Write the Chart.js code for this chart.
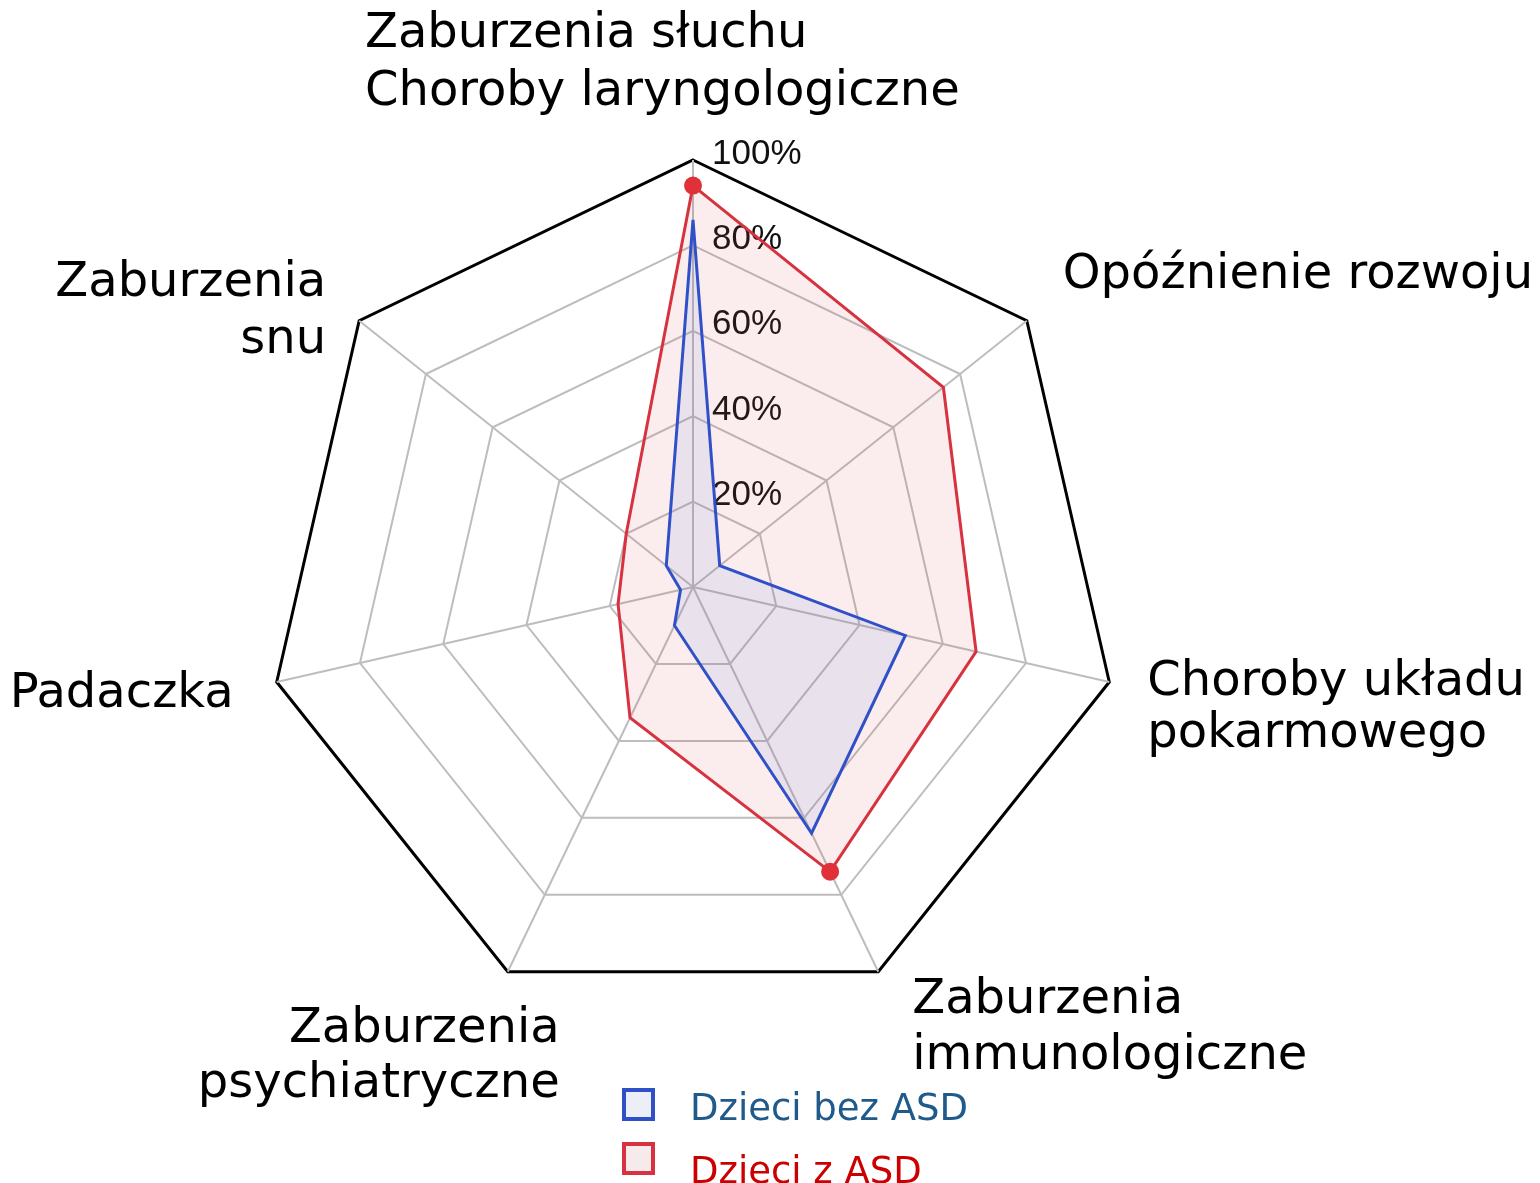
<!DOCTYPE html>
<html>
<head>
<meta charset="utf-8">
<script src="https://cdn.jsdelivr.net/npm/chart.js@4.4.1/dist/chart.umd.min.js"></script>
<style>
  html, body { margin: 0; padding: 0; background: #fff; }
  .wrap { width: 1540px; height: 1183px; position: relative; }
</style>
</head>
<body>
<div class="wrap"><canvas id="radar"></canvas></div>
<script>
// axis categories (clockwise from top)
const categories = [
    ['Zaburzenia słuchu', 'Choroby laryngologiczne'],
    ['Opóźnienie rozwoju'],
    ['Choroby układu', 'pokarmowego'],
    ['Zaburzenia', 'immunologiczne'],
    ['Zaburzenia', 'psychiatryczne'],
    ['Padaczka'],
    ['Zaburzenia', 'snu']
];
const seriesNames = ['Dzieci bez ASD', 'Dzieci z ASD'];
const withoutAsd = [86, 8, 51, 64, 10, 3, 8];
const withAsd = [94, 75, 68, 74, 34, 18, 20];
const tickValues = [20, 40, 60, 80, 100];

// where each category label sits relative to its outer vertex
const labelPlace = [
    { dx: -328, dy: -113, align: 'left', lh: 58 },
    { dx: 36, dy: -33, align: 'left', lh: 56 },
    { dx: 38, dy: 13, align: 'left', lh: 52 },
    { dx: 34, dy: 41, align: 'left', lh: 56 },
    { dx: 52, dy: 70, align: 'right', lh: 55 },
    { dx: -43, dy: 25, align: 'right', lh: 56 },
    { dx: -33, dy: -25, align: 'right', lh: 57 }
];

const labelFont = '48px "DejaVu Sans", Verdana, sans-serif';

const extras = {
    id: 'extras',
    beforeDatasetsDraw(chart) {
        const { ctx } = chart;
        const r = chart.scales.r;
        ctx.save();
        ctx.font = '35px "Liberation Sans", Arial, sans-serif';
        ctx.fillStyle = '#111';
        ctx.textAlign = 'left';
        ctx.textBaseline = 'middle';
        tickValues.forEach((v) => {
            const p = r.getPointPositionForValue(0, v);
            ctx.fillText(v + '%', p.x + 19, p.y - 6);
        });
        ctx.restore();
    },
    afterDraw(chart) {
        const { ctx } = chart;
        const r = chart.scales.r;
        ctx.save();
        ctx.font = labelFont;
        ctx.fillStyle = '#000';
        ctx.textBaseline = 'alphabetic';
        categories.forEach((lines, i) => {
            const v = r.getPointPositionForValue(i, 100);
            const pl = labelPlace[i];
            ctx.textAlign = pl.align;
            lines.forEach((t, k) => {
                ctx.fillText(t, v.x + pl.dx, v.y + pl.dy + k * pl.lh);
            });
        });

        // legend, stacked at the bottom
        const legendText = ['#1f5a8a', '#cc0000'];
        const boxFill = ['#eceef8', '#f6eaea'];
        ctx.font = '37px "DejaVu Sans", Verdana, sans-serif';
        ctx.textAlign = 'left';
        chart.data.datasets.forEach((ds, i) => {
            const y = 1088 + i * 54;
            ctx.fillStyle = boxFill[i];
            ctx.fillRect(622, y, 33, 33);
            ctx.strokeStyle = ds.borderColor;
            ctx.lineWidth = 4;
            ctx.strokeRect(624, y + 2, 29, 29);
            ctx.fillStyle = legendText[i];
            ctx.fillText(ds.label, 690, 1120 + i * 63);
        });
        ctx.restore();
    }
};

new Chart(document.getElementById('radar'), {
    type: 'radar',
    data: {
        labels: categories,
        datasets: [{
            label: seriesNames[0],
            data: withoutAsd,
            borderColor: '#3050c8',
            backgroundColor: 'rgba(80, 140, 240, 0.10)',
            borderWidth: 3,
            fill: true,
            pointRadius: 0
        }, {
            label: seriesNames[1],
            data: withAsd,
            borderColor: '#d6323f',
            backgroundColor: 'rgba(215, 70, 80, 0.10)',
            borderWidth: 3,
            fill: true,
            pointRadius: [9, 0, 0, 9, 0, 0, 0],
            pointBackgroundColor: '#e0303a',
            pointBorderWidth: 0
        }]
    },
    options: {
        responsive: true,
        maintainAspectRatio: false,
        animation: false,
        layout: {
            padding: { left: 266, right: 420, top: 160, bottom: 169 }
        },
        plugins: {
            legend: { display: false },
            tooltip: { enabled: false }
        },
        scales: {
            r: {
                min: 0,
                max: 100,
                ticks: { display: false, stepSize: 20 },
                pointLabels: { display: false },
                angleLines: { color: '#bdbdbd', lineWidth: 2 },
                grid: {
                    color: (c) => c.tick && c.tick.value === 100 ? '#000' : '#bdbdbd',
                    lineWidth: (c) => c.tick && c.tick.value === 100 ? 3 : 2
                }
            }
        }
    },
    plugins: [extras]
});
</script>
</body>
</html>
